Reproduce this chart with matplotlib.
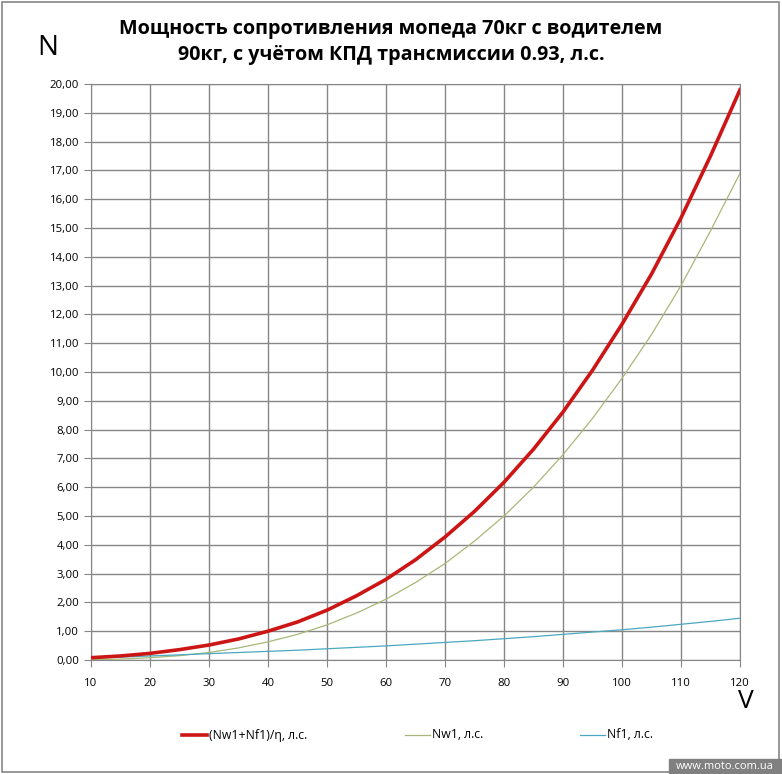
import matplotlib
matplotlib.use("Agg")
import matplotlib.pyplot as plt
from matplotlib.patches import Rectangle
from matplotlib.lines import Line2D

plt.rcParams["font.family"] = ["Open Sans", "DejaVu Sans"]

# Данные
speed = [10, 15, 20, 25, 30, 35, 40, 45, 50, 55, 60, 65,
         70, 75, 80, 85, 90, 95, 100, 105, 110, 115, 120]
n_total = [0.08, 0.14, 0.23, 0.36, 0.52, 0.73, 1.00, 1.32, 1.73, 2.23,
           2.80, 3.48, 4.27, 5.16, 6.17, 7.32, 8.61, 10.06, 11.66,
           13.40, 15.35, 17.50, 19.80]
n_w1 = [0.01, 0.03, 0.08, 0.15, 0.26, 0.42, 0.63, 0.89, 1.22, 1.63,
        2.11, 2.69, 3.35, 4.13, 5.00, 6.00, 7.13, 8.39, 9.78, 11.30,
        13.00, 14.90, 16.90]
n_f1 = [0.07, 0.10, 0.14, 0.18, 0.22, 0.26, 0.30, 0.34, 0.39, 0.44,
        0.49, 0.55, 0.61, 0.67, 0.74, 0.81, 0.89, 0.97, 1.05, 1.14,
        1.24, 1.34, 1.45]
x_ticks = list(range(10, 121, 10))
y_ticks = list(range(0, 21))

title = "Мощность сопротивления мопеда 70кг с водителем\n90кг, с учётом КПД трансмиссии 0.93, л.с."
labels = ["(Nw1+Nf1)/η, л.с.", "Nw1, л.с.", "Nf1, л.с."]
colors = ["#cc1515", "#a8b878", "#4aa8c0"]
widths = [2.6, 0.9, 0.9]

W, H = 782, 774
fig = plt.figure(figsize=(W / 100, H / 100), dpi=100)
ax = fig.add_axes([91 / W, 1 - 660 / H, (740 - 91) / W, (660 - 84) / H])

ax.plot(speed, n_w1, color=colors[1], lw=widths[1], zorder=3)
ax.plot(speed, n_f1, color=colors[2], lw=widths[2], zorder=3)
ax.plot(speed, n_total, color=colors[0], lw=widths[0], zorder=4,
        solid_joinstyle="round")

ax.set_xlim(10, 120)
ax.set_ylim(0, 20)
ax.set_xticks(x_ticks)
ax.set_yticks(y_ticks)
ax.set_yticklabels(["%d,00" % v for v in y_ticks])
ax.grid(color="#868686", lw=1.0)
for s in ax.spines.values():
    s.set_color("#868686")
ax.tick_params(axis="both", colors="#868686", labelcolor="black",
               labelsize=8.2, length=5, direction="out")
ax.tick_params(axis="x", pad=8)

fig.text(0.5, 1 - 42 / H, title, ha="center", va="center",
         fontsize=14.2, fontweight="bold", linespacing=1.45)
fig.text(48 / W, 1 - 48 / H, "N", ha="center", va="center", fontsize=20)
fig.text(746 / W, 1 - 701 / H, "V", ha="center", va="center", fontsize=19)

# Легенда (элементы расставлены как в оригинале)
leg_y = 1 - 735 / H
leg_x = [182, 405, 580]
for x0, lab, c, w in zip(leg_x, labels, colors, widths):
    fig.lines.append(Line2D([x0 / W, (x0 + 25) / W], [leg_y, leg_y],
                            transform=fig.transFigure, color=c, lw=w))
    fig.text((x0 + 27) / W, leg_y, lab, ha="left", va="center", fontsize=8.8)

# Рамка и подпись сайта
fig.patches.append(Rectangle((2 / W, 1 - 772 / H), 777 / W, 770 / H,
                             transform=fig.transFigure, fill=False,
                             edgecolor="#868686", lw=1.2))
fig.patches.append(Rectangle((669 / W, 0), 113 / W, 15 / H,
                             transform=fig.transFigure, color="#808080"))
fig.text(725 / W, 7.5 / H, "www.moto.com.ua", ha="center", va="center",
         color="white", fontsize=8)

fig.savefig("out.png", dpi=100)
